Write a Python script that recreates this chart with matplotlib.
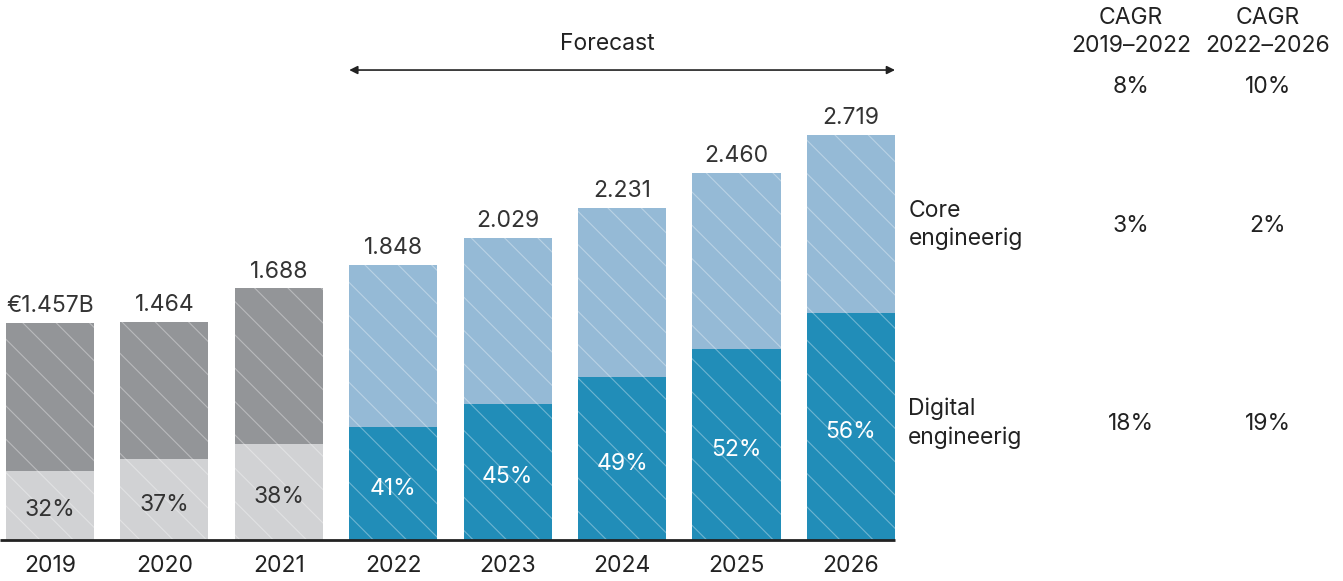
import matplotlib
matplotlib.use("Agg")
import matplotlib.pyplot as plt
import numpy as np

plt.rcParams['font.family'] = ['Inter', 'DejaVu Sans']
plt.rcParams['hatch.color'] = (1, 1, 1, 0.35)
plt.rcParams['hatch.linewidth'] = 0.8

years = ['2019', '2020', '2021', '2022', '2023', '2024', '2025', '2026']
totals = [1.457, 1.464, 1.688, 1.848, 2.029, 2.231, 2.460, 2.719]
total_labels = ['€1.457B', '1.464', '1.688', '1.848', '2.029', '2.231', '2.460', '2.719']
digital_share = [32, 37, 38, 41, 45, 49, 52, 56]
forecast = [False, False, False, True, True, True, True, True]

cagr_headers = ['CAGR\n2019–2022', 'CAGR\n2022–2026']
cagr_total = ['8%', '10%']
cagr_core = ['3%', '2%']
cagr_digital = ['18%', '19%']
row_labels = ['Core\nengineerig', 'Digital\nengineerig']

W, H = 1343, 581
FS = 16.5
fig = plt.figure(figsize=(W / 100, H / 100), dpi=100)
ax = fig.add_axes([0, 0, 1, 1])
ax.set_xlim(-0.437, 11.30)
ax.set_ylim(-0.275, 3.624)
ax.axis('off')

def fx(px):
    return px / W

def fy(py):
    return 1 - py / H

colors = {
    False: ('#939598', '#d1d2d4', '#333333'),
    True: ('#95bad6', '#218db8', 'white'),
}
width = 0.77
x = np.arange(len(years))
totals_a = np.array(totals)
digital = totals_a * np.array(digital_share) / 100
core = totals_a - digital

for i in range(len(years)):
    top_c, bot_c, txt_c = colors[forecast[i]]
    ax.bar(x[i], digital[i], width=width, color=bot_c, hatch='\\', linewidth=0)
    ax.bar(x[i], core[i], bottom=digital[i], width=width, color=top_c, hatch='\\', linewidth=0)
    ax.text(x[i], digital[i] / 2 - 0.035, f'{digital_share[i]}%', ha='center', va='center',
            fontsize=FS, color=txt_c)
    ax.text(x[i], totals[i] + 0.04, total_labels[i], ha='center', va='bottom',
            fontsize=FS, color='#333333')
    ax.text(x[i], -0.175, years[i], ha='center', va='center', fontsize=FS, color='#222222')

ax.hlines(0, -0.437, x[-1] + width / 2, color='#222222', linewidth=2)

# Forecast arrow
first_fc = forecast.index(True)
ax.annotate('', xy=(x[first_fc] - width / 2, 3.154), xytext=(x[-1] + width / 2, 3.154),
            arrowprops=dict(arrowstyle='<|-|>', color='#222222', lw=1.2,
                            mutation_scale=12, shrinkA=0, shrinkB=0))
ax.text((x[first_fc] - width / 2 + x[-1] + width / 2) / 2 - 0.13, 3.33, 'Forecast',
        ha='center', va='center', fontsize=FS, color='#222222')

# CAGR table
col_x = [1131, 1268]
for j in range(2):
    fig.text(fx(col_x[j]), fy(32), cagr_headers[j], ha='center', va='center',
             fontsize=FS, color='#222222', linespacing=1.35)
    fig.text(fx(col_x[j]), fy(87), cagr_total[j], ha='center', va='center',
             fontsize=FS, color='#222222')
    fig.text(fx(col_x[j]), fy(226), cagr_core[j], ha='center', va='center',
             fontsize=FS, color='#222222')
    fig.text(fx(col_x[j]), fy(424), cagr_digital[j], ha='center', va='center',
             fontsize=FS, color='#222222')

fig.text(fx(909), fy(225), row_labels[0], ha='left', va='center', fontsize=FS,
         color='#222222', linespacing=1.35)
fig.text(fx(908), fy(423), row_labels[1], ha='left', va='center', fontsize=FS,
         color='#222222', linespacing=1.35)

fig.savefig('out.png', dpi=100)
